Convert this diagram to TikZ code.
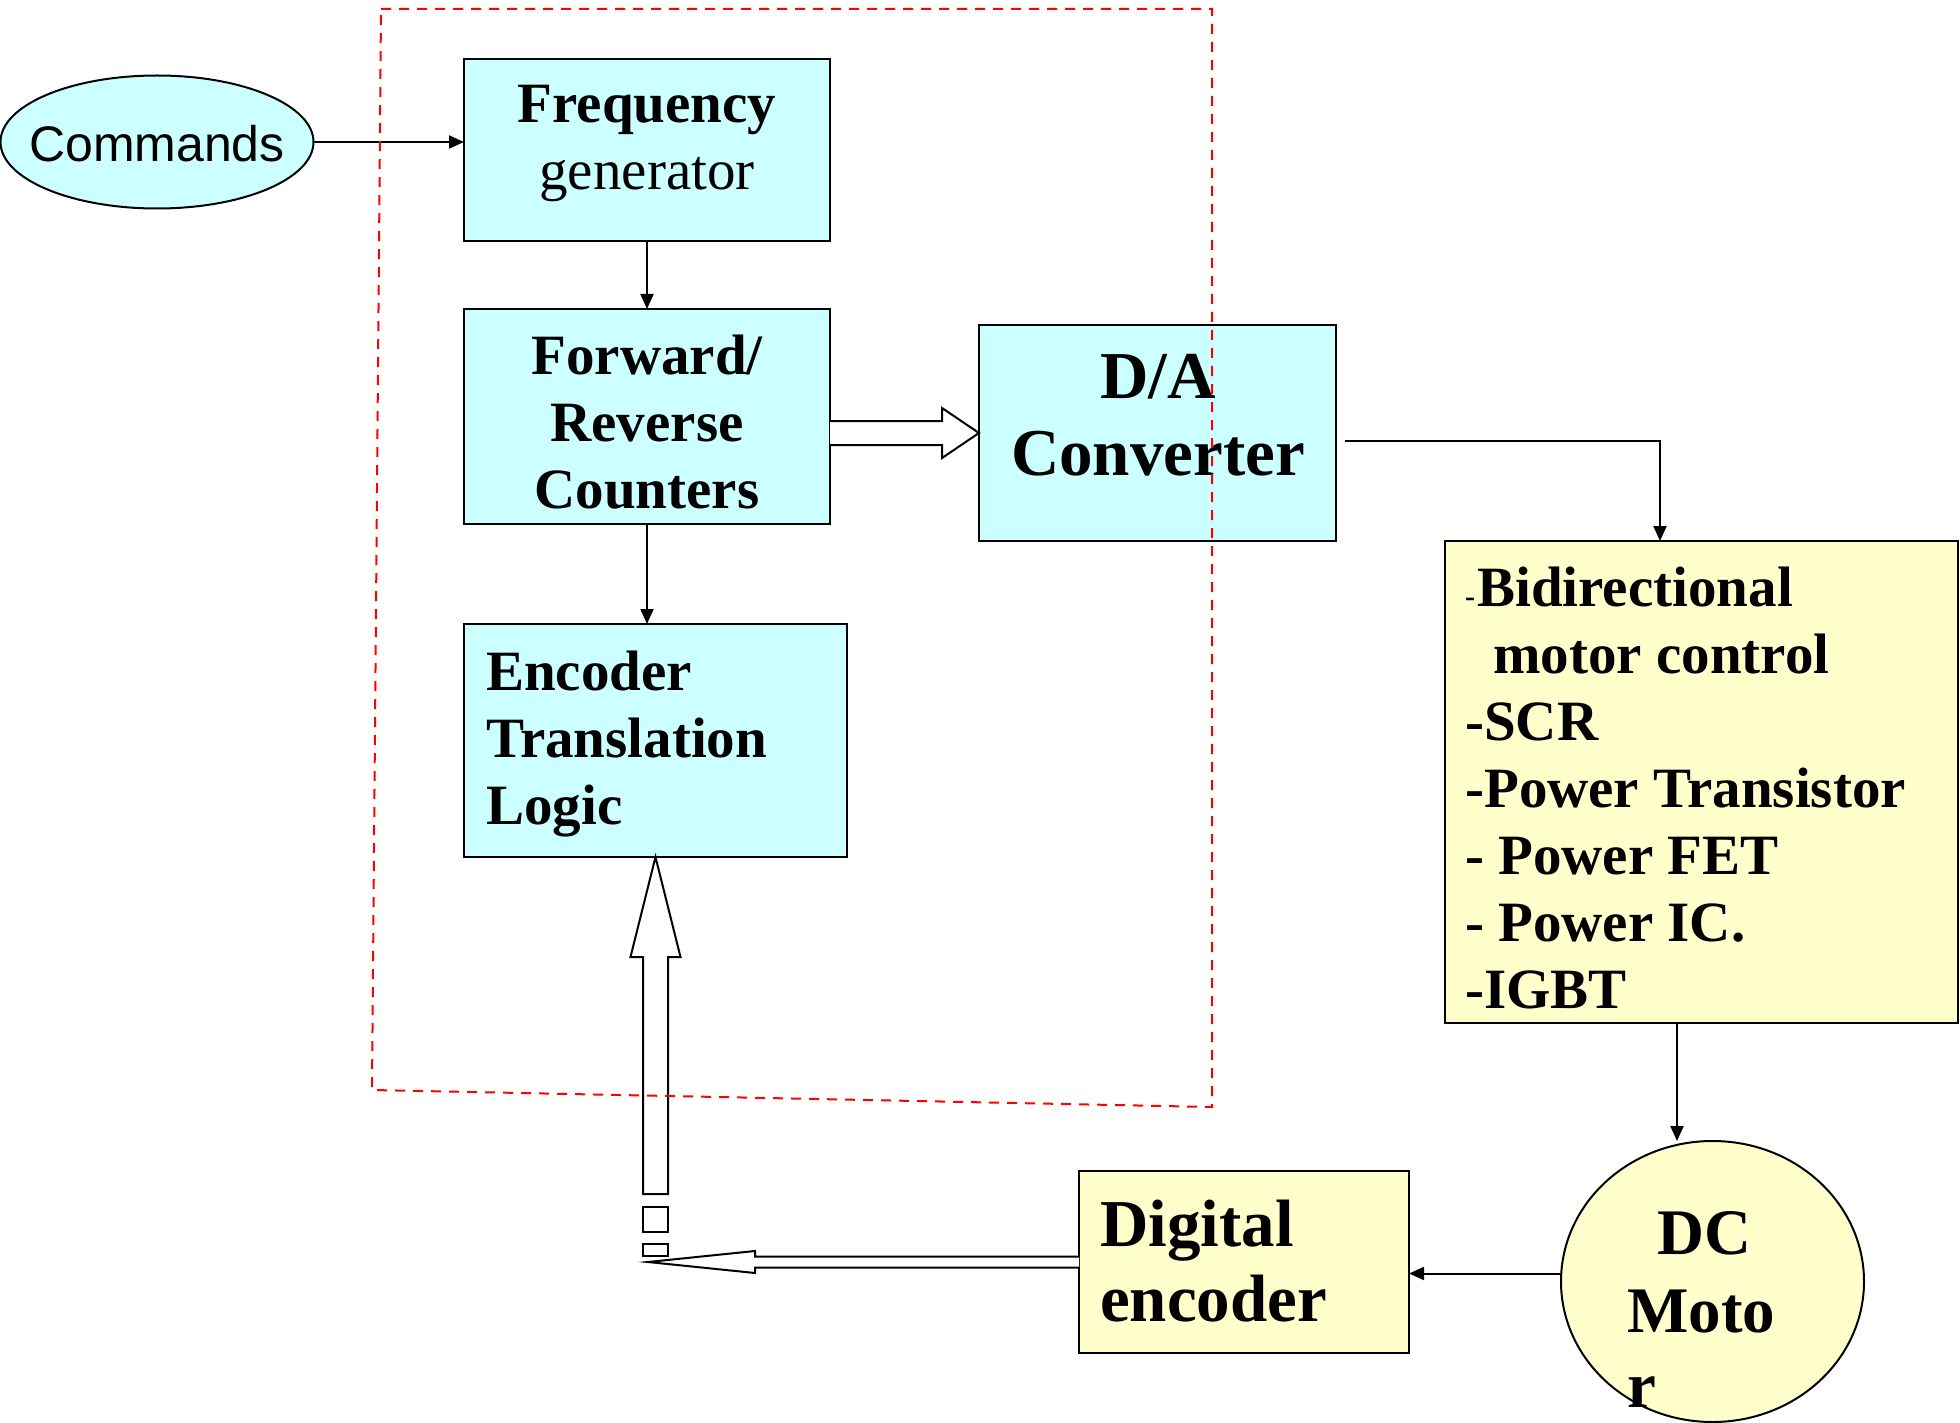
\documentclass[tikz,border=0pt]{standalone}
\usepackage{fontspec}
\setmainfont{Liberation Serif}
\newfontfamily\arialf{Liberation Sans}
\usetikzlibrary{arrows.meta,calc,shapes.geometric}
\definecolor{cyanbox}{HTML}{CCFFFF}
\definecolor{yelbox}{HTML}{FFFFCC}
\definecolor{dashred}{HTML}{FF0000}
\begin{document}
\begin{tikzpicture}[x=1pt,y=-1pt,
  cbox/.style={draw,line width=2pt,fill=cyanbox,inner sep=0pt,outer sep=0pt},
  ybox/.style={draw,line width=2pt,fill=yelbox,inner sep=0pt,outer sep=0pt},
  lbl/.style={inner sep=0pt,font=\fontsize{57}{67}\selectfont\bfseries},
  lblr/.style={inner sep=0pt,font=\fontsize{57}{67}\selectfont},
  big/.style={inner sep=0pt,font=\fontsize{67}{77}\selectfont\bfseries},
  arr/.style={line width=2pt,-{Triangle[length=15pt,width=13pt]}},
  hollow/.style={line width=2pt,fill=white,line join=miter},
  redbox/.style={draw=dashred,line width=2pt,dash pattern=on 10pt off 8pt}]
\useasboundingbox (0,0) rectangle (1960,1423);

% nodes
\node[cbox,ellipse,minimum width=313pt,minimum height=133pt] (Cmd) at (157,142) {};
\node[inner sep=0pt,anchor=base,font=\arialf\fontsize{50}{60}\selectfont] (CmdT) at (157,162) {Commands};

\node[cbox,minimum width=366pt,minimum height=182pt] (Freq) at (647,150) {};
\node[lbl,anchor=base] (FreqT1) at (647,123) {Frequency};
\node[lblr,anchor=base] (FreqT2) at (647,190) {generator};

\node[cbox,minimum width=366pt,minimum height=215pt] (Cnt) at (647,416.5) {};
\node[lbl,anchor=base] (CntT1) at (647,374) {Forward/};
\node[lbl,anchor=base] (CntT2) at (647,441) {Reverse};
\node[lbl,anchor=base] (CntT3) at (647,508) {Counters};

\node[cbox,minimum width=357pt,minimum height=216pt] (DA) at (1157.5,433) {};
\node[big,anchor=base] (DAT1) at (1158,398) {D/A};
\node[big,anchor=base] (DAT2) at (1158,475) {Converter};

\node[cbox,minimum width=383pt,minimum height=233pt] (Enc) at (655.5,740.5) {};
\node[lbl,anchor=base west] (EncT1) at (486,690) {Encoder};
\node[lbl,anchor=base west] (EncT2) at (486,757) {Translation};
\node[lbl,anchor=base west] (EncT3) at (486,824) {Logic};

\node[ybox,minimum width=513pt,minimum height=482pt] (Bid) at (1701.5,782) {};
\node[inner sep=0pt,anchor=base west,font=\fontsize{30}{36}\selectfont\bfseries] (BidD) at (1465,606) {-};
\node[lbl,anchor=base west] (BidT1) at (1477,606) {Bidirectional};
\node[lbl,anchor=base west] (BidT2) at (1493,673) {motor control};
\node[lbl,anchor=base west] (BidT3) at (1465,740) {-SCR};
\node[lbl,anchor=base west] (BidT4) at (1465,807) {-Power Transistor};
\node[lbl,anchor=base west] (BidT5) at (1465,874) {- Power FET};
\node[lbl,anchor=base west] (BidT6) at (1465,941) {- Power IC.};
\node[lbl,anchor=base west] (BidT7) at (1465,1008) {-IGBT};

\node[ybox,ellipse,minimum width=303pt,minimum height=281pt] (Mot) at (1712.5,1281.5) {};
\node[inner sep=0pt,anchor=base,font=\fontsize{65}{77}\selectfont\bfseries] (MotT1) at (1704,1254) {DC};
\node[inner sep=0pt,anchor=base west,font=\fontsize{65}{77}\selectfont\bfseries] (MotT2) at (1627,1332) {Moto};
\node[inner sep=0pt,anchor=base west,font=\fontsize{65}{77}\selectfont\bfseries] (MotT3) at (1627,1407) {r};

\node[ybox,minimum width=330pt,minimum height=182pt] (Dig) at (1244,1262) {};
\node[big,anchor=base west] (DigT1) at (1100,1246) {Digital};
\node[big,anchor=base west] (DigT2) at (1100,1321) {encoder};

% thin connectors
\draw[arr] (Cmd.east) -- (Cmd.east -| Freq.west);
\draw[arr] (Freq.south) -- (Cnt.north);
\draw[arr] (Cnt.south) -- (Cnt.south |- Enc.north);
\coordinate (daout) at ($(DA.east)+(9,8)$);
\coordinate (bidin) at ($(Bid.north)+(-41.5,0)$);
\draw[arr] (daout) -| (bidin);
\coordinate (bidout) at ($(Bid.south)+(-24.5,0)$);
\draw[arr] (bidout) -- (bidout |- Mot.north);
\coordinate (motout) at ($(Mot.west)+(0,-8)$);
\draw[arr] (motout) -- (motout -| Dig.east);

% hollow arrow counters -> D/A
\coordinate (tA) at (DA.west);
\coordinate (sA) at (Cnt.east |- DA.west);
\draw[hollow] ($(sA)+(0,-12)$) -- ($(tA)+(-37,-12)$) -- ($(tA)+(-37,-25)$) -- (tA)
  -- ($(tA)+(-37,25)$) -- ($(tA)+(-37,12)$) -- ($(sA)+(0,12)$);

% hollow arrow up into encoder logic
\coordinate (tB) at (Enc.south);
\coordinate (sB) at ($(tB)+(0,337)$);
\draw[hollow] ($(sB)+(-12.5,0)$) -- ($(tB)+(-12.5,100)$) -- ($(tB)+(-25,100)$) -- (tB)
  -- ($(tB)+(25,100)$) -- ($(tB)+(12.5,100)$) -- ($(sB)+(12.5,0)$) -- cycle;
\draw[line width=2pt,fill=white] (643,1207) rectangle (668,1232);
\draw[line width=2pt,fill=white] (643,1244) rectangle (668,1256);

% hollow arrow from digital encoder to the left
\coordinate (tC) at (648,1262);
\coordinate (sC) at (Dig.west |- tC);
\draw[hollow] ($(sC)+(0,-5.5)$) -- ($(tC)+(107,-5.5)$) -- ($(tC)+(107,-11)$) -- (tC)
  -- ($(tC)+(107,11)$) -- ($(tC)+(107,5.5)$) -- ($(sC)+(0,5.5)$);

% red dashed outline
\draw[redbox] (381,9) -- (1212,9) -- (1212,1107) -- (372,1090) -- cycle;
\end{tikzpicture}
\end{document}
